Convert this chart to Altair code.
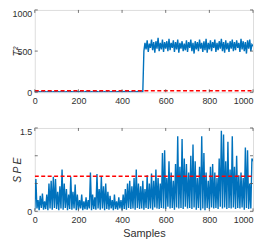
import altair as alt
import pandas as pd

samples = list(range(0, 1001, 5))

t2_before = [6,4,8,5,7,3,9,5,6,4, 7,5,8,6,4,9,5,7,3,6, 8,5,6,4,7,5,9,6,4,8,
             5,7,3,6,8,5,7,4,6,9, 5,6,8,4,7,5,6,9,3,7, 6,4,8,5,7,6,4,9,5,6,
             8,3,7,5,6,4,8,6,5,7, 4,9,6,5,7,3,8,6,4,7, 5,6,9,4,8,5,7,6,3,8,
             6,5,7,4,9,6,5,8,4,6]
t2_after = [500,600,520,630,490,590,540,640,510,610, 480,620,530,660,500,600,520,640,490,610,
            530,620,500,650,510,600,540,630,490,610, 520,640,480,600,530,620,500,590,510,630,
            490,610,540,640,500,600,470,620,520,610, 500,640,530,600,490,620,510,650,480,600,
            520,630,500,610,540,640,490,600,510,620, 530,650,500,610,480,630,520,600,490,620,
            530,640,500,610,510,630,540,600,490,650, 520,620,500,610,470,630,530,640,500,580,
            560]
t2_values = t2_before + t2_after
t2_limit = 19

spe_values = [
    0.03,0.58,0.05,0.2,0.02,0.28,0.06,0.32,0.03,0.18, 0.04,0.3,0.02,0.5,0.05,0.55,0.03,0.62,0.06,0.58,
    0.04,0.35,0.02,0.45,0.05,0.75,0.03,0.5,0.06,0.4, 0.02,0.3,0.04,0.62,0.03,0.35,0.05,0.48,0.02,0.3,
    0.03,0.2,0.05,0.3,0.02,0.18,0.04,0.25,0.03,0.2, 0.05,0.7,0.02,0.3,0.04,0.25,0.03,0.67,0.05,0.4,
    0.03,0.62,0.05,0.45,0.02,0.5,0.04,0.35,0.03,0.28, 0.05,0.2,0.02,0.3,0.04,0.18,0.03,0.25,0.05,0.2,
    0.02,0.3,0.04,0.4,0.03,0.5,0.06,0.55,0.04,0.45, 0.05,0.6,0.03,0.75,0.06,0.5,0.04,0.45,0.05,0.55,
    0.03,0.4,0.06,0.65,0.04,0.5,0.05,0.68,0.03,0.55, 0.07,0.75,0.05,0.6,0.04,0.5,0.06,1.05,0.05,1.1,
    0.04,0.6,0.08,0.9,0.05,0.7,0.06,0.55,0.03,0.85, 0.07,1.35,0.05,0.8,0.06,1.3,0.04,0.95,0.08,0.85,
    0.05,0.7,0.06,1.0,0.04,1.2,0.07,0.9,0.03,0.6, 0.06,0.8,0.02,1.35,0.05,1.05,0.02,0.7,0.06,0.55,
    0.04,0.8,0.07,0.85,0.05,0.7,0.06,0.6,0.04,0.95, 0.08,1.45,0.05,1.38,0.07,0.9,0.04,1.25,0.06,0.75,
    0.05,1.35,0.07,0.8,0.04,1.0,0.06,0.65,0.05,0.7, 0.07,0.6,0.03,1.15,0.06,1.1,0.04,0.5,0.05,0.95,
    0.9]
spe_limit = 0.63

x_ticks = [0, 200, 400, 600, 800, 1000]
t2_ticks = [0, 500, 1000]
spe_ticks = [0, 0.5, 1, 1.5]

BLUE = "#0072BD"
RED = "#FF0000"
TXT = "#303030"
W = 220

t2_df = pd.DataFrame({"x": samples, "y": t2_values})
spe_df = pd.DataFrame({"x": samples, "y": spe_values})


def panel(df, limit, ydom, yticks, title, height, xtitle):
    xs = alt.Scale(domain=[0, 1000], nice=False, zero=False)
    ys = alt.Scale(domain=ydom, nice=False, zero=False)
    top_val = ydom[1]
    xaxis = alt.Axis(values=x_ticks, tickSize=0, labelPadding=4, grid=False, domain=False,
                     labelFlush=False,
                     labelAlign={"condition": {"test": "datum.value == 1000", "value": "right"},
                                 "value": "center"},
                     labelFont="Liberation Sans", labelFontSize=9, labelColor=TXT,
                     labelExpr="'' + datum.value",
                     title=xtitle, titleFont="Liberation Sans", titleFontSize=11,
                     titleFontWeight="normal", titleColor=TXT, titlePadding=3)
    yaxis = alt.Axis(values=yticks, tickSize=0, labelPadding=3, grid=False, domain=False,
                     labelFont="Liberation Sans", labelFontSize=9, labelColor=TXT,
                     labelExpr="'' + datum.value",
                     labelBaseline={"condition": {"test": f"datum.value == {top_val}", "value": "top"},
                                    "value": "middle"},
                     minExtent=12, maxExtent=12,
                     title=title, titleFont="Liberation Sans", titleFontStyle="italic",
                     titleFontSize=10.5, titleFontWeight="normal", titleColor=TXT, titlePadding=0)
    line = alt.Chart(df).mark_line(color=BLUE, strokeWidth=1.4, clip=True).encode(
        x=alt.X("x:Q", scale=xs, axis=xaxis),
        y=alt.Y("y:Q", scale=ys, axis=yaxis),
    )
    lim = alt.Chart(pd.DataFrame({"x": [0, 1000], "y": [limit, limit]})).mark_line(
        color=RED, strokeWidth=1.5, strokeDash=[4, 2.5], clip=True
    ).encode(x="x:Q", y="y:Q")
    xt = pd.DataFrame({"x": x_ticks})
    yt = pd.DataFrame({"y": yticks})
    tk = dict(color="#555555", strokeWidth=0.8)
    tb = alt.Chart(xt).mark_rule(**tk).encode(x="x:Q", y=alt.value(height - 3), y2=alt.value(height))
    tt = alt.Chart(xt).mark_rule(**tk).encode(x="x:Q", y=alt.value(0), y2=alt.value(3))
    tl = alt.Chart(yt).mark_rule(**tk).encode(y="y:Q", x=alt.value(0), x2=alt.value(3))
    tr = alt.Chart(yt).mark_rule(**tk).encode(y="y:Q", x=alt.value(W - 3), x2=alt.value(W))
    return alt.layer(line, lim, tb, tt, tl, tr).properties(width=W, height=height)


top = panel(t2_df, t2_limit, [0, 1000], t2_ticks, "T²", 83, None)
bot = panel(spe_df, spe_limit, [0, 1.5], spe_ticks, "S\u2009P\u2009E", 84, "Samples")

chart = alt.vconcat(top, bot, spacing=21).properties(
    padding={"top": 0, "left": 3, "right": 0, "bottom": 0}
).configure_view(stroke="#8a8a8a", strokeWidth=0.8).configure(background="white")

chart.save("out.html", embed_options={"renderer": "svg", "actions": False})
